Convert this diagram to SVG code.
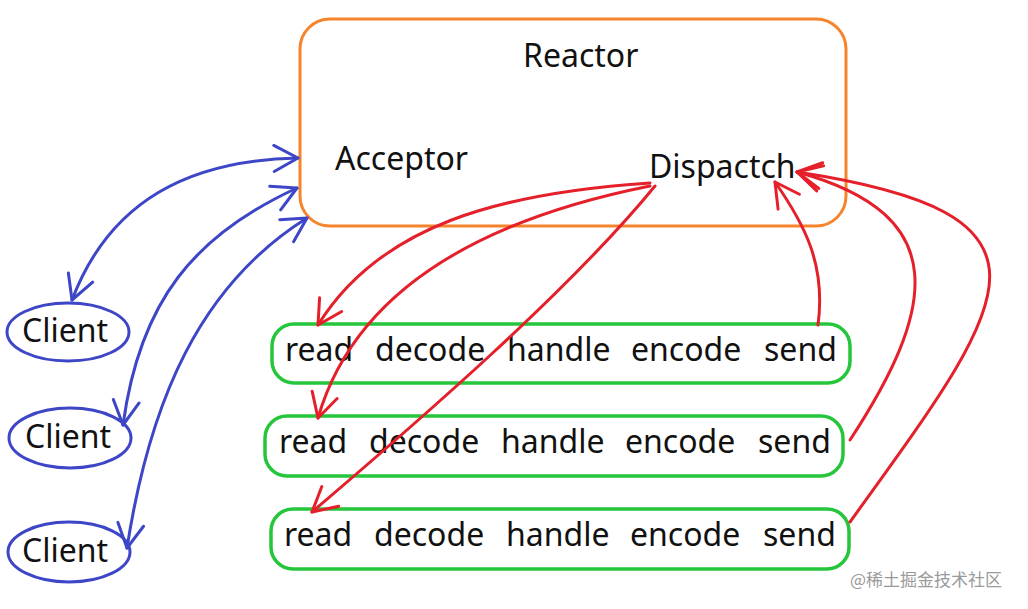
<svg xmlns="http://www.w3.org/2000/svg" width="1028" height="609" viewBox="0 0 1028 609">
<style>
.t{font-family:"Noto Sans","Open Sans","Liberation Sans",sans-serif;font-size:32px;fill:#111}
.blue{fill:none;stroke:#3d46c6;stroke-width:3;stroke-linecap:round}
.red{fill:none;stroke:#e4202b;stroke-width:3;stroke-linecap:round}
.gbox{fill:none;stroke:#25c63b;stroke-width:3.5}
.wm{font-family:"Noto Sans CJK SC","Noto Sans",sans-serif;font-size:17px;fill:#9a9a9a}
</style>
<defs>
<marker id="vb" viewBox="0 0 36 36" refX="30" refY="18" markerWidth="36" markerHeight="36" markerUnits="userSpaceOnUse" orient="auto-start-reverse">
<path d="M6,5 L30,18 L6,31" fill="none" stroke="#3d46c6" stroke-width="3" stroke-linecap="round" stroke-linejoin="round"/>
</marker>
<marker id="vr" viewBox="0 0 36 36" refX="30" refY="18" markerWidth="36" markerHeight="36" markerUnits="userSpaceOnUse" orient="auto">
<path d="M6,5 L30,18 L6,31" fill="none" stroke="#e4202b" stroke-width="3" stroke-linecap="round" stroke-linejoin="round"/>
</marker>
</defs>
<rect width="1028" height="609" fill="#fff"/>
<g id="reactor">
<rect x="300" y="19" width="546" height="207" rx="30" fill="none" stroke="#f5842c" stroke-width="3"/>
<text class="t" x="523" y="67">Reactor</text>
</g>
<g id="acceptor"><text class="t" x="335" y="170">Acceptor</text></g>
<g id="dispatch"><text class="t" x="649" y="178">Dispactch</text></g>
<g id="client1"><ellipse cx="68" cy="332" rx="61" ry="29" fill="none" stroke="#3d46c6" stroke-width="3"/><text class="t" x="22" y="342">Client</text></g>
<g id="client2"><ellipse cx="70" cy="438" rx="61" ry="30" fill="none" stroke="#3d46c6" stroke-width="3"/><text class="t" x="25" y="448">Client</text></g>
<g id="client3"><ellipse cx="69" cy="552" rx="61" ry="30" fill="none" stroke="#3d46c6" stroke-width="3"/><text class="t" x="22" y="562">Client</text></g>
<g id="handler1"><rect x="272" y="324" width="578" height="59" rx="22" class="gbox"/>
<text class="t" y="361"><tspan x="285">read</tspan><tspan x="375">decode</tspan><tspan x="507">handle</tspan><tspan x="631">encode</tspan><tspan x="764">send</tspan></text></g>
<g id="handler2"><rect x="265" y="416" width="578" height="60" rx="22" class="gbox"/>
<text class="t" y="453"><tspan x="279">read</tspan><tspan x="369">decode</tspan><tspan x="501">handle</tspan><tspan x="625">encode</tspan><tspan x="758">send</tspan></text></g>
<g id="handler3"><rect x="271" y="509" width="578" height="60" rx="22" class="gbox"/>
<text class="t" y="546"><tspan x="284">read</tspan><tspan x="374">decode</tspan><tspan x="506">handle</tspan><tspan x="630">encode</tspan><tspan x="763">send</tspan></text></g>
<g id="connectors">
<path class="blue" d="M72,300 C110,200 190,160 298,158" marker-start="url(#vb)" marker-end="url(#vb)"/>
<path class="blue" d="M123,425 C140,300 195,235 297,188" marker-start="url(#vb)" marker-end="url(#vb)"/>
<path class="blue" d="M127,548 C150,400 200,285 307,218" marker-start="url(#vb)" marker-end="url(#vb)"/>
<path class="red" d="M650,183 C500,193 380,225 318,325" marker-end="url(#vr)"/>
<path class="red" d="M650,186 C480,220 355,290 318,418" marker-end="url(#vr)"/>
<path class="red" d="M655,186 C570,290 420,420 312,512" marker-end="url(#vr)"/>
<path class="red" d="M818,325 C826,265 805,225 775,182" marker-end="url(#vr)"/>
<path class="red" d="M850,440 C935,310 955,215 797,172" marker-end="url(#vr)"/>
<path class="red" d="M850,522 C1010,300 1080,215 797,172" marker-end="url(#vr)"/>
</g>
<text class="wm" x="850" y="586">@稀土掘金技术社区</text>
</svg>
